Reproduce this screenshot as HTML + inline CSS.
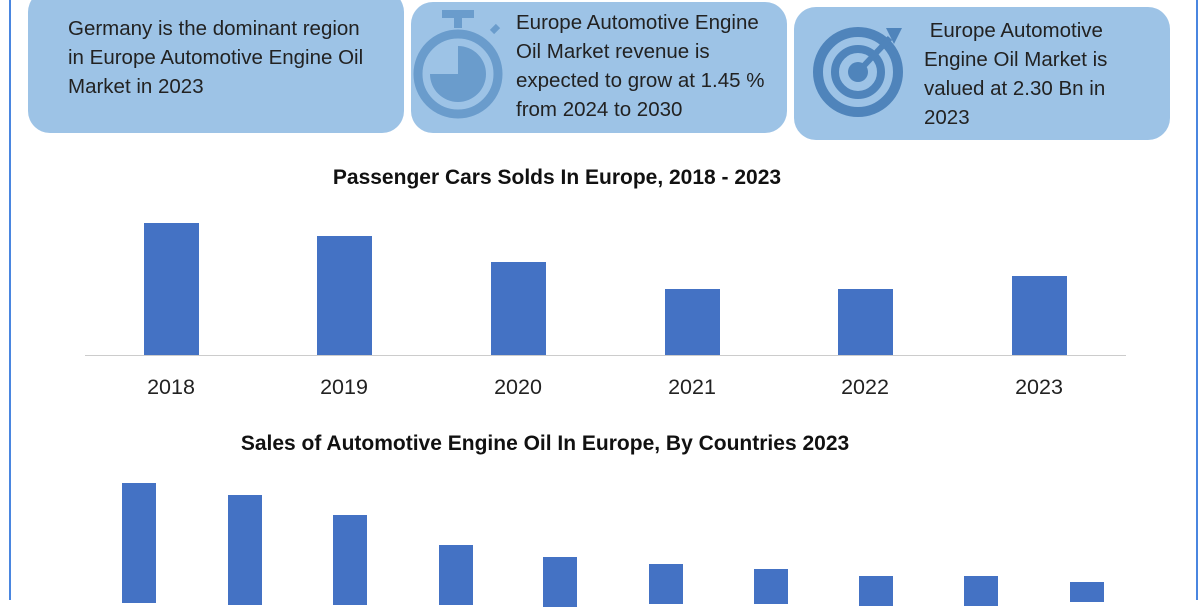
<!DOCTYPE html>
<html><head><style>
body{margin:0;width:1200px;height:600px;background:#fff;position:relative;overflow:hidden;font-family:"Liberation Sans",sans-serif}
.b{position:absolute;background:#9dc3e6;border-radius:22px}
.t{position:absolute;font-size:20.5px;line-height:29px;color:#222}
.bar{position:absolute;background:#4472c4}
.lab{position:absolute;font-size:21.5px;color:#222;width:80px;text-align:center}
.ttl{position:absolute;font-weight:bold;font-size:21px;color:#111;width:1200px;text-align:center}
</style></head><body>
<div style="position:absolute;left:9px;top:0;width:2px;height:600px;background:#4a86e0"></div>
<div style="position:absolute;left:1196px;top:0;width:2px;height:600px;background:#4a86e0"></div>
<div class="b" style="left:28px;top:-10px;width:376px;height:143px"></div>
<div class="t" style="left:68px;top:14px">Germany is the dominant region<br>in Europe Automotive Engine Oil<br>Market in 2023</div>
<div class="b" style="left:411px;top:2px;width:376px;height:131px"></div>
<svg style="position:absolute;left:412px;top:8px" width="96" height="120" viewBox="0 0 96 120">
<rect x="30" y="2" width="32" height="8" fill="#6a9ccc"/><rect x="42" y="8" width="8" height="12" fill="#6a9ccc"/>
<line x1="80" y1="24" x2="86" y2="18" stroke="#6a9ccc" stroke-width="6"/>
<circle cx="46" cy="66" r="40" fill="none" stroke="#6a9ccc" stroke-width="9"/>
<path d="M46 38 A28 28 0 1 1 18 66 L46 66 Z" fill="#6a9ccc"/></svg>
<div class="t" style="left:516px;top:8px">Europe Automotive Engine<br>Oil Market revenue is<br>expected to grow at 1.45 %<br>from 2024 to 2030</div>
<div class="b" style="left:794px;top:7px;width:376px;height:133px"></div>
<svg style="position:absolute;left:810px;top:14px" width="100" height="110" viewBox="0 0 100 110">
<circle cx="48" cy="58" r="40" fill="none" stroke="#4f84bb" stroke-width="10"/>
<circle cx="48" cy="58" r="23" fill="none" stroke="#4f84bb" stroke-width="8"/>
<circle cx="48" cy="58" r="10" fill="#4f84bb"/>
<line x1="48" y1="58" x2="80" y2="24" stroke="#4f84bb" stroke-width="6"/>
<path d="M76 14 L92 14 L84 30 Z" fill="#4f84bb"/></svg>
<div class="t" style="left:924px;top:16px">&nbsp;Europe Automotive<br>Engine Oil Market is<br>valued at 2.30 Bn in<br>2023</div>
<div class="ttl" style="left:-43px;top:166px">Passenger Cars Solds In Europe, 2018 - 2023</div>
<div style="position:absolute;left:85px;top:355px;width:1041px;height:1px;background:#ccc"></div>
<div class="bar" style="left:144px;top:223px;width:55px;height:132px"></div>
<div class="bar" style="left:317px;top:236px;width:55px;height:119px"></div>
<div class="bar" style="left:491px;top:262px;width:55px;height:93px"></div>
<div class="bar" style="left:665px;top:289px;width:55px;height:66px"></div>
<div class="bar" style="left:838px;top:289px;width:55px;height:66px"></div>
<div class="bar" style="left:1012px;top:276px;width:55px;height:79px"></div>
<div class="lab" style="left:131px;top:375px">2018</div>
<div class="lab" style="left:304px;top:375px">2019</div>
<div class="lab" style="left:478px;top:375px">2020</div>
<div class="lab" style="left:652px;top:375px">2021</div>
<div class="lab" style="left:825px;top:375px">2022</div>
<div class="lab" style="left:999px;top:375px">2023</div>
<div class="ttl" style="left:-55px;top:432px">Sales of Automotive Engine Oil In Europe, By Countries 2023</div>
<div class="bar" style="left:122px;top:483px;width:34px;height:120px"></div>
<div class="bar" style="left:228px;top:495px;width:34px;height:110px"></div>
<div class="bar" style="left:333px;top:515px;width:34px;height:90px"></div>
<div class="bar" style="left:439px;top:545px;width:34px;height:60px"></div>
<div class="bar" style="left:543px;top:557px;width:34px;height:50px"></div>
<div class="bar" style="left:649px;top:564px;width:34px;height:40px"></div>
<div class="bar" style="left:754px;top:569px;width:34px;height:35px"></div>
<div class="bar" style="left:859px;top:576px;width:34px;height:30px"></div>
<div class="bar" style="left:964px;top:576px;width:34px;height:30px"></div>
<div class="bar" style="left:1070px;top:582px;width:34px;height:20px"></div>
</body></html>
